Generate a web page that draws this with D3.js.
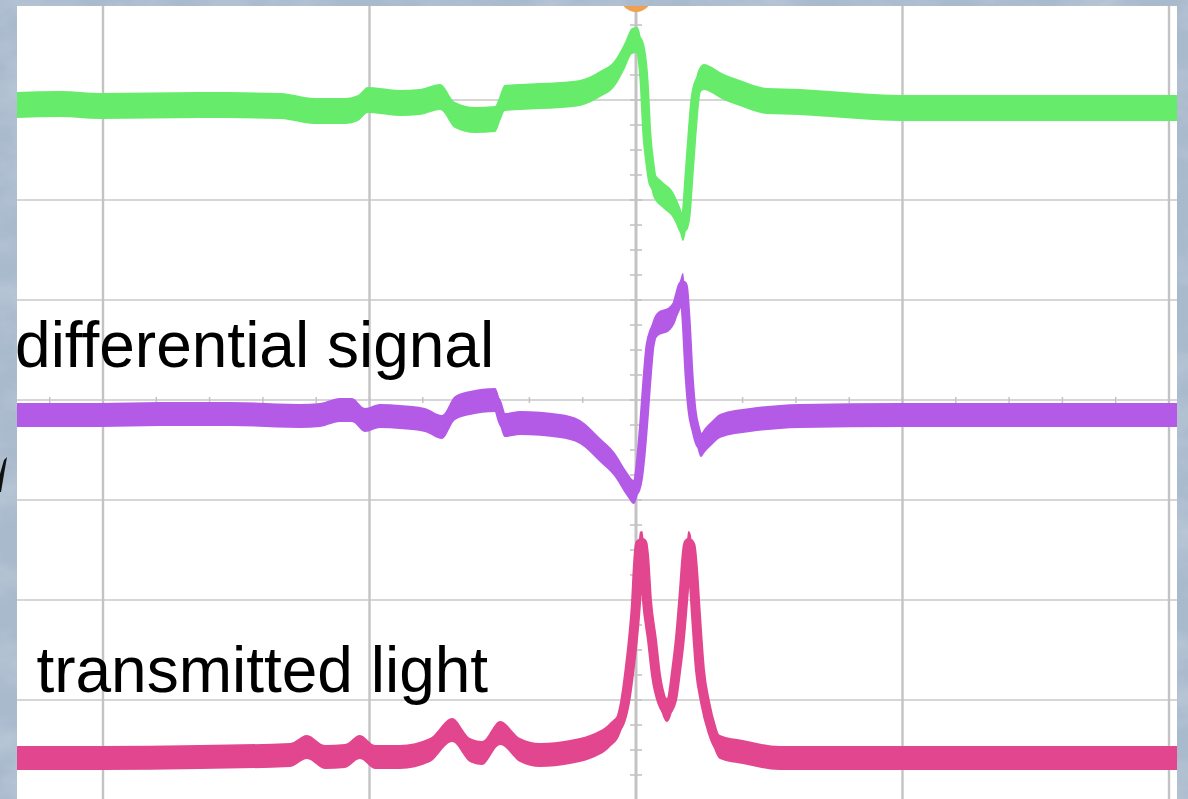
<!DOCTYPE html>
<html><head><meta charset="utf-8">
<script src="https://cdn.jsdelivr.net/npm/d3@7"></script>
<style>html,body{margin:0;padding:0;background:#b3c2d2;overflow:hidden}svg{display:block}</style>
</head><body>
<svg id="chart" width="1188" height="799"></svg>
<script>
// time in units (10 units per horizontal division), amplitude in divisions
const xTicks = [-20, -10, 0, 10, 20];
const yTicks = [-4, -3, -2, -1, 0, 1, 2, 3, 4];

const greenT = [-23.23,-21.61,-20.11,-16.36,-13.36,-12.05,-10.92,-10.43,-10.06,-9.61,-8.86,-8.11,-7.35,-6.79,-6.04,-5.29,-4.92,-4.35,-2.85,-2.10,-1.35,-0.79,-0.41,-0.15,0.04,0.19,0.30,0.41,0.53,0.64,1.01,1.39,1.65,1.76,1.88,1.99,2.10,2.21,2.36,2.55,2.85,3.15,3.90,4.92,6.15,7.28,9.91,13.66,17.41,20.30];
const greenV = [2.95,2.96,2.94,2.95,2.94,2.89,2.89,2.92,3.00,2.99,2.97,2.98,3.03,2.85,2.80,2.81,3.02,3.03,3.05,3.07,3.16,3.27,3.45,3.59,3.60,3.48,3.20,2.65,2.35,2.17,2.05,1.95,1.80,1.72,1.85,2.25,2.65,3.00,3.18,3.23,3.20,3.15,3.07,2.99,2.98,2.96,2.92,2.92,2.92,2.92];

const purpleT = [-23.23,-20.11,-17.86,-15.23,-12.61,-11.86,-11.11,-10.66,-10.17,-9.61,-8.86,-7.92,-7.28,-6.79,-6.23,-5.29,-4.92,-4.35,-2.85,-2.10,-1.35,-0.79,-0.34,-0.08,0.08,0.19,0.30,0.41,0.53,0.79,1.28,1.50,1.65,1.76,1.88,1.99,2.10,2.25,2.44,2.59,2.85,3.15,4.28,5.40,6.15,9.91,20.30];
const purpleV = [-0.15,-0.15,-0.14,-0.14,-0.16,-0.15,-0.10,-0.10,-0.20,-0.16,-0.17,-0.20,-0.27,-0.08,-0.03,0.00,-0.25,-0.23,-0.26,-0.32,-0.50,-0.65,-0.84,-0.92,-0.80,-0.55,-0.20,0.20,0.55,0.75,0.82,0.92,1.07,1.15,0.80,0.25,-0.10,-0.30,-0.45,-0.40,-0.33,-0.26,-0.20,-0.17,-0.16,-0.15,-0.15];

const pinkT = [-23.23,-20.11,-16.36,-12.98,-12.35,-11.67,-10.92,-10.36,-9.79,-8.86,-7.73,-6.90,-6.23,-5.78,-5.10,-4.35,-3.60,-2.48,-1.73,-0.98,-0.60,-0.41,-0.23,-0.11,0.00,0.08,0.15,0.23,0.30,0.41,0.60,0.75,0.98,1.16,1.35,1.50,1.65,1.80,1.90,1.97,2.05,2.14,2.25,2.40,2.59,2.85,3.15,4.01,5.40,9.91,20.30];
const pinkV = [-3.58,-3.58,-3.57,-3.55,-3.47,-3.57,-3.56,-3.47,-3.57,-3.57,-3.50,-3.30,-3.50,-3.53,-3.33,-3.50,-3.55,-3.52,-3.47,-3.35,-3.22,-3.02,-2.67,-2.38,-2.03,-1.62,-1.44,-1.43,-1.55,-2.00,-2.40,-2.75,-3.02,-3.10,-3.00,-2.72,-2.38,-1.90,-1.55,-1.43,-1.46,-1.70,-2.15,-2.70,-3.02,-3.30,-3.47,-3.52,-3.58,-3.58,-3.58];

const labels = [
  {text: "differential signal", t: -23.3, v: 0.33},
  {text: "transmitted light", t: -22.5, v: -2.92}
];

const W = 1188, H = 799;
const svg = d3.select("#chart");
const x = d3.scaleLinear().domain([-23.865, 20.713]).range([0, W]);
const y = d3.scaleLinear().domain([-4, 4]).range([800, 0]);

const plot = {x0: 17, y0: 6, x1: 1177, y1: 799};

// background texture
const defs = svg.append("defs");
const f = defs.append("filter").attr("id", "marble").attr("x", 0).attr("y", 0).attr("width", "100%").attr("height", "100%");
f.append("feTurbulence").attr("type", "fractalNoise").attr("baseFrequency", "0.015 0.025").attr("numOctaves", 4).attr("seed", 7).attr("result", "n");
f.append("feColorMatrix").attr("in", "n").attr("type", "matrix")
  .attr("values", "0 0 0 0 0.85  0 0 0 0 0.9  0 0 0 0 0.95  1.0 0 0 0 -0.4").attr("result", "w");
f.append("feComposite").attr("in", "w").attr("in2", "SourceGraphic").attr("operator", "over");
svg.append("rect").attr("width", W).attr("height", H).attr("fill", "#a9bacd");
svg.append("rect").attr("width", W).attr("height", H).attr("fill", "#a9bacd").attr("filter", "url(#marble)").attr("opacity", 0.45);

defs.append("clipPath").attr("id", "clip").append("rect")
  .attr("x", plot.x0).attr("y", plot.y0).attr("width", plot.x1 - plot.x0).attr("height", plot.y1 - plot.y0);

svg.append("rect").attr("x", plot.x0).attr("y", plot.y0)
  .attr("width", plot.x1 - plot.x0).attr("height", plot.y1 - plot.y0).attr("fill", "#ffffff");

const g = svg.append("g").attr("clip-path", "url(#clip)");

// horizontal grid
g.append("g").selectAll("line").data(yTicks).join("line")
  .attr("x1", plot.x0).attr("x2", plot.x1)
  .attr("y1", d => y(d)).attr("y2", d => y(d))
  .attr("stroke", "#c9c9c9").attr("stroke-width", 1.6);
// vertical grid
g.append("g").selectAll("line").data(xTicks).join("line")
  .attr("x1", d => x(d)).attr("x2", d => x(d))
  .attr("y1", 0).attr("y2", H)
  .attr("stroke", "#c3c3c3").attr("stroke-width", d => d === 0 ? 3 : 2.4);
// minor ticks on center vertical axis
g.append("g").selectAll("line").data(d3.range(-4, 4.001, 0.25)).join("line")
  .attr("x1", x(0) - 6).attr("x2", x(0) + 6)
  .attr("y1", d => y(d)).attr("y2", d => y(d))
  .attr("stroke", "#c3c3c3").attr("stroke-width", 1.6);
// minor ticks on center horizontal axis
g.append("g").selectAll("line").data(d3.range(-24, 22, 2)).join("line")
  .attr("x1", d => x(d)).attr("x2", d => x(d))
  .attr("y1", y(0) - 3).attr("y2", y(0) + 3)
  .attr("stroke", "#c3c3c3").attr("stroke-width", 1.5);

// traces
const traces = [
  {t: greenT, v: greenV, color: "#66eb6a", half: 0.13, sw: 9},
  {t: purpleT, v: purpleV, color: "#b35ae6", half: 0.12, sw: 9},
  {t: pinkT, v: pinkV, color: "#e2468e", half: 0.12, sw: 10}
];
traces.forEach(tr => {
  const data = tr.t.map((t, i) => ({t, v: tr.v[i]}));
  g.append("path").datum(data)
    .attr("d", d3.area().curve(d3.curveMonotoneX).x(d => x(d.t)).y0(d => y(d.v - tr.half)).y1(d => y(d.v + tr.half)))
    .attr("fill", tr.color);
  g.append("path").datum(data)
    .attr("d", d3.line().curve(d3.curveMonotoneX).x(d => x(d.t)).y(d => y(d.v)))
    .attr("fill", "none").attr("stroke", tr.color).attr("stroke-width", tr.sw).attr("stroke-linejoin", "round");
});

// trigger marker
g.append("circle").attr("cx", x(0)).attr("cy", plot.y0 - 10).attr("r", 16).attr("fill", "#f0a04e");

// labels
svg.append("g").selectAll("text").data(labels).join("text")
  .attr("x", d => x(d.t)).attr("y", d => y(d.v))
  .attr("font-family", "'Liberation Sans', Arial, Helvetica, sans-serif")
  .attr("font-size", 64).attr("fill", "#000")
  .text(d => d.text);

// cut-off glyph fragment at left edge
svg.append("path").attr("d", "M0,492 L0,474 L4,460 L7,457 L4,474 L1,492 Z").attr("fill", "#111");
</script>
</body></html>
